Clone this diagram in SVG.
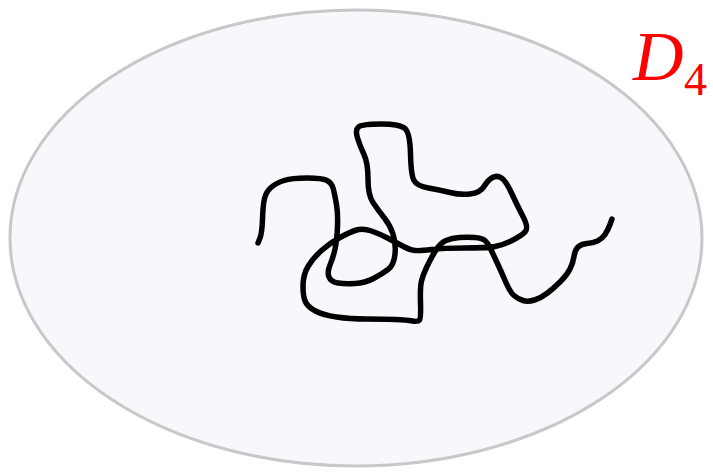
<svg xmlns="http://www.w3.org/2000/svg" width="713" height="475" viewBox="0 0 713 475">
<style>
.region{fill:#f7f7fc;stroke:#c8c8c8;stroke-width:3}
.curve{fill:none;stroke:#000;stroke-width:5.5;stroke-linecap:round;stroke-linejoin:round}
.lbl{fill:#ff0000;font-family:"Liberation Serif",serif}
</style>
<g id="domain">
<ellipse class="region" cx="356" cy="238" rx="346" ry="228"/>
</g>
<g id="curve-group">
<path class="curve" d="M258,243 L260,238 Q262,233 262.5,219 Q263,205 264.5,198.5 Q266,192 271,187.5 Q276,183 284,180.5 Q292,178 307,178 Q322,178 327,180.5 Q332,183 333.5,189.5 Q335,196 336.5,204.5 Q338,213 337.5,226.5 Q337,240 335,249 Q333,258 330,265 Q327,272 329,277 Q331,282 338,283 Q345,284 355,283.5 Q365,283 373.5,278.5 Q382,274 388,269.5 Q394,265 395,254 Q396,243 393,234 Q390,225 384,217.5 Q378,210 373,202.5 Q368,195 368,179 Q368,163 364,154.5 Q360,146 357.5,138 Q355,130 358.5,127 Q362,124 381,124 Q400,124 405,128.5 Q410,133 410.5,154 Q411,175 414,180.5 Q417,186 428.5,188 Q440,190 450,192.5 Q460,195 470,194 Q480,193 484,186.5 Q488,180 492.5,177.5 Q497,175 501.5,178 Q506,181 511.5,193 Q517,205 523,216.5 Q529,228 525,232 Q521,236 512,240.5 Q503,245 495,246.5 Q487,248 465,248 Q443,248 431.5,249.5 Q420,251 415,250.5 Q410,250 403.5,246.5 Q397,243 388.5,238.5 Q380,234 371.5,231 Q363,228 356.5,230 Q350,232 340,237.5 Q330,243 321.5,250.5 Q313,258 308,266.5 Q303,275 303,286 Q303,297 305.5,302 Q308,307 315.5,311 Q323,315 336.5,317 Q350,319 366.5,319 Q383,319 395,319.5 Q407,320 412.5,321 Q418,322 419.5,320 Q421,318 420.5,302.5 Q420,287 421.5,281 Q423,275 426.5,267.5 Q430,260 435,251.5 Q440,243 446,240.5 Q452,238 459.5,237.5 Q467,237 474.5,237.5 Q482,238 485,240.5 Q488,243 490.5,248.5 Q493,254 497,262.5 Q501,271 505.5,281.5 Q510,292 514,295.5 Q518,299 523,300.5 Q528,302 534.5,300 Q541,298 547.5,293 Q554,288 560.5,281.5 Q567,275 570,269 Q573,263 574,256.5 Q575,250 578,247 Q581,244 587,243.5 Q593,243 597.5,241 Q602,239 605,234.5 Q608,230 610,224.5 L612,219"/>
</g>
<g id="label">
<text class="lbl" x="633" y="80" font-size="70" font-style="italic">D</text>
<text class="lbl" x="684" y="95" font-size="46">4</text>
</g>
</svg>
